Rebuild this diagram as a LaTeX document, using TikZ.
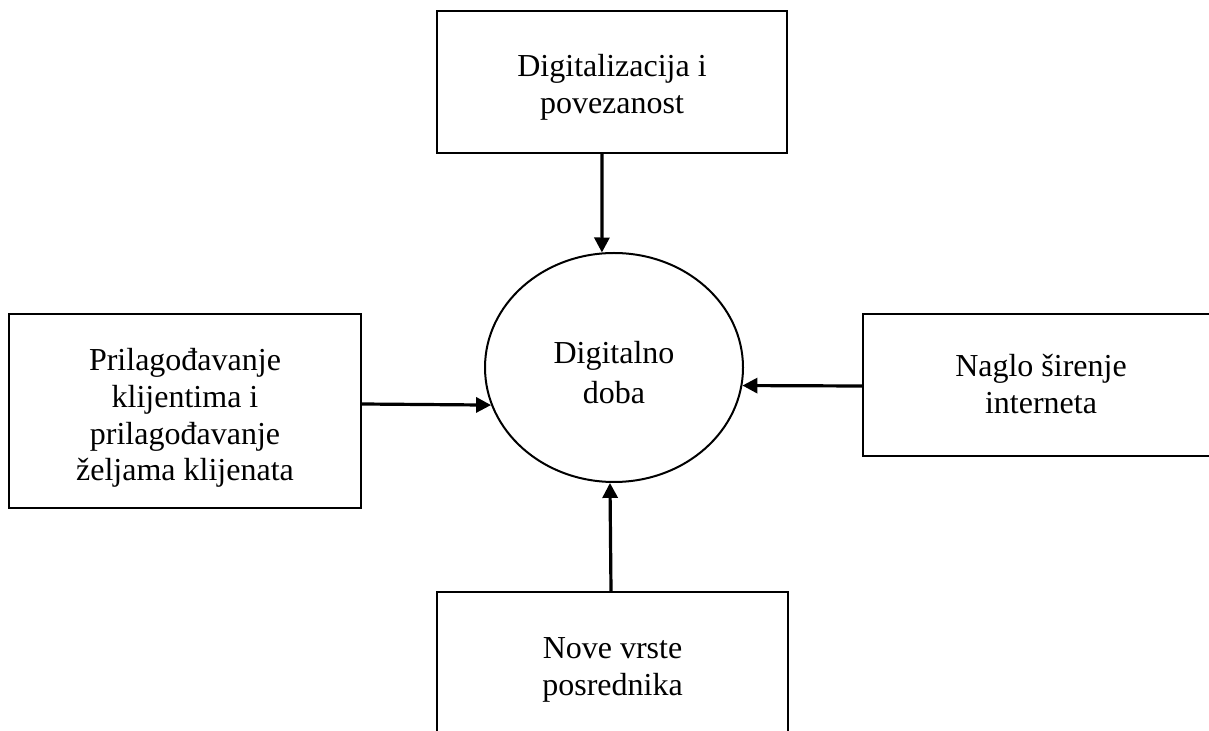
\documentclass[tikz,border=0pt]{standalone}
\usepackage{fontspec}
\setmainfont{Liberation Serif}
\usetikzlibrary{arrows.meta,shapes.geometric}
\begin{document}
\begin{tikzpicture}[x=0.5pt,y=-0.5pt,
  box/.style={draw,line width=1pt,rectangle,inner sep=0pt},
  txt/.style={align=center,inner sep=0pt,font=\fontsize{16}{18.4}\selectfont},
  arr/.style={line width=1.6pt,-{Triangle[length=7.5pt,width=7.5pt]}}]
\useasboundingbox (0,0) rectangle (1209,731);
\clip (0,0) rectangle (1209,731);
\fill[white] (0,0) rectangle (1209,731);
\node[box,minimum width=175pt,minimum height=71pt] (top) at (612,82) {};
\node[txt] (toptxt) at (612,87) {Digitalizacija i\\povezanost};
\node[box,minimum width=176pt,minimum height=97pt] (left) at (185,411) {};
\node[txt] (lefttxt) at (185,418) {Prilagođavanje\\klijentima i\\prilagođavanje\\željama klijenata};
\node[box,minimum width=178pt,minimum height=71pt] (right) at (1041,385) {};
\node[txt] (righttxt) at (1041,384) {Naglo širenje\\interneta};
\node[box,minimum width=175.5pt,minimum height=71pt] (bot) at (612.5,663) {};
\node[txt] (bottxt) at (612.5,670) {Nove vrste\\posrednika};
\node[draw,line width=1pt,ellipse,inner sep=0pt,minimum width=129pt,minimum height=114.5pt] (e) at (614,367.5) {};
\node[txt,font=\fontsize{16}{20}\selectfont] (etxt) at (614,373) {Digitalno\\doba};
\draw[arr] ([xshift=-5pt]top.south) -- (e.96);
\draw[arr] ([yshift=3.5pt]left.east) -- (e.197);
\draw[arr] ([yshift=-0.5pt]right.west) -- (e.-8);
\draw[arr] ([xshift=-0.75pt]bot.north) -- (e.268.5);
\end{tikzpicture}
\end{document}
